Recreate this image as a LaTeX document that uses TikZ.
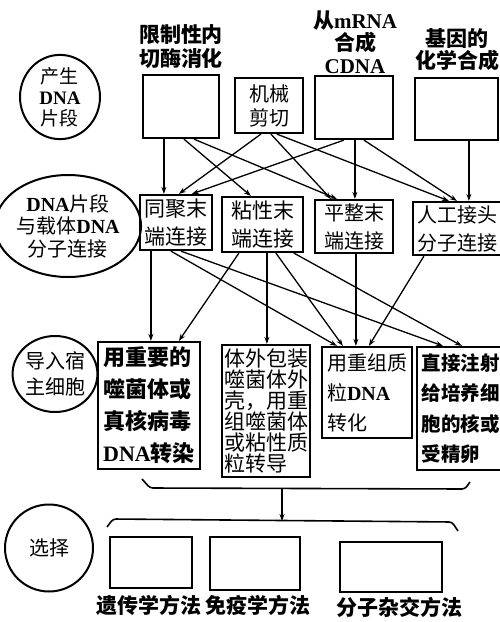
\documentclass[tikz,border=0pt]{standalone}
\usepackage{fontspec}
\setmainfont{Noto Sans CJK SC}
\newfontfamily\latf{Liberation Serif}
\usetikzlibrary{arrows.meta,shapes.geometric}
\newcommand\La[1]{{\latf\bfseries #1}}
\begin{document}
\begin{tikzpicture}[x=1pt,y=-1pt,
  box/.style={draw, line width=2.2pt, inner sep=0pt},
  arr/.style={line width=1.3pt, -{Stealth[length=7pt,width=5pt]}},
  circ/.style={draw, ellipse, line width=2pt, inner sep=0pt, align=center},
  lab/.style={inner sep=0pt, align=center},
  brace/.style={line width=1.6pt, rounded corners=3pt}]
\useasboundingbox (0,0) rectangle (500,622);

% top labels
\node[lab, font=\bfseries\fontsize{21}{24}\selectfont] (tA) at (181,47) {限制性内\\切酶消化};
\node[lab, font=\bfseries\fontsize{21}{22.5}\selectfont] (tC) at (355,42) {从\La{mRNA}\\合成\\\La{CDNA}};
\node[lab, font=\bfseries\fontsize{21}{22}\selectfont] (tD) at (457,50) {基因的\\化学合成};

% circles
\node[circ, minimum width=80pt, minimum height=80pt, font=\fontsize{19}{21}\selectfont] (c1) at (60,97) {产生\\\La{DNA}\\片段};
\node[circ, minimum width=107pt, minimum height=102pt, font=\fontsize{20}{22.5}\selectfont] (c2) at (68,226) {\La{DNA}片段\\与载体\La{DNA}\\分子连接};
\node[circ, minimum width=84pt, minimum height=76pt, font=\fontsize{20}{26}\selectfont] (c3) at (55,374) {导入宿\\主细胞};
\node[circ, minimum width=88pt, minimum height=87pt, font=\fontsize{20}{24}\selectfont] (c4) at (49,548) {选择};

% row 1
\node[box, minimum width=76pt, minimum height=63pt] (A) at (181,106.5) {};
\node[box, minimum width=68pt, minimum height=55pt, font=\fontsize{20}{24}\selectfont, align=center] (B) at (269,105.5) {机械\\剪切};
\node[box, minimum width=78pt, minimum height=63pt] (C) at (354,107.5) {};
\node[box, minimum width=83pt, minimum height=62pt] (D) at (456.5,109) {};

% row 2
\node[box, minimum width=72pt, minimum height=55pt, font=\fontsize{21}{28}\selectfont, align=center] (E) at (176,222.5) {同聚末\\端连接};
\node[box, minimum width=81pt, minimum height=55pt, font=\fontsize{21}{28}\selectfont, align=center] (F) at (262.5,224.5) {粘性末\\端连接};
\node[box, minimum width=78pt, minimum height=53pt, font=\fontsize{20}{28}\selectfont, align=center] (G) at (354,226.5) {平整末\\端连接};
\node[box, text width=80pt, inner xsep=4.5pt, minimum height=53pt, font=\fontsize{20}{28}\selectfont, align=left] (H) at (457.5,228.5) {人工接头\\分子连接};

% row 3
\node[box, minimum width=102pt, minimum height=127pt, font=\bfseries\fontsize{22}{32}\selectfont, align=left] (I) at (149,405.5) {用重要的\\噬菌体或\\真核病毒\\\La{DNA}转染};
\node[box, minimum width=88pt, minimum height=132pt, font=\fontsize{21}{21}\selectfont, align=left] (J) at (266,411) {体外包装\\噬菌体外\\壳，用重\\组噬菌体\\或粘性质\\粒转导};
\node[box, minimum width=90pt, minimum height=91pt, font=\fontsize{20}{30}\selectfont, align=left] (K) at (367,392.5) {用重组质\\粒\La{DNA}\\转化};
\node[box, text width=78pt, inner xsep=4.5pt, minimum height=123pt, font=\bfseries\fontsize{19.5}{30.5}\selectfont, align=left] (L) at (460.5,408.5) {直接注射\\给培养细\\胞的核或\\受精卵};

% row 4
\node[box, minimum width=82pt, minimum height=51pt] (M) at (151,562.5) {};
\node[box, minimum width=90pt, minimum height=53pt] (N) at (255,563.5) {};
\node[box, minimum width=102pt, minimum height=50pt] (O) at (391,567) {};
\node[lab, font=\bfseries\fontsize{21}{24}\selectfont] (lM) at (149,605) {遗传学方法};
\node[lab, font=\bfseries\fontsize{21}{24}\selectfont] (lN) at (258,605) {免疫学方法};
\node[lab, font=\bfseries\fontsize{21}{24}\selectfont] (lO) at (399,607) {分子杂交方法};

% row 1 -> row 2
\draw[arr] ([xshift=22pt]A.south west) -- ([xshift=25pt]E.north west);
\draw[arr] ([xshift=42pt]A.south west) -- ([xshift=30pt]F.north west);
\draw[arr] ([xshift=52pt]A.south west) -- ([xshift=23pt]G.north west);
\draw[arr] ([xshift=27pt]B.south west) -- ([xshift=40pt]E.north west);
\draw[arr] ([xshift=37pt]B.south west) -- ([xshift=17pt]G.north west);
\draw[arr] ([xshift=43pt]B.south west) -- ([xshift=37pt]H.north west);
\draw[arr] ([xshift=30pt]C.south west) -- ([xshift=53pt]E.north west);
\draw[arr] ([xshift=41pt]C.south west) -- ([xshift=41pt]G.north west);
\draw[arr] ([xshift=50pt]C.south west) -- ([xshift=45pt]H.north west);
\draw[arr] ([xshift=55pt]D.south west) -- ([xshift=57pt]H.north west);

% row 2 -> row 3
\draw[arr] ([xshift=12pt]E.south west) -- ([xshift=54pt]I.north west);
\draw[arr] ([xshift=32pt]E.south west) -- ([xshift=16pt]K.north west);
\draw[arr] ([xshift=42pt]E.south west) -- ([xshift=27pt]L.north west);
\draw[arr] ([xshift=18pt]F.south west) -- ([xshift=82pt]I.north west);
\draw[arr] ([xshift=46pt]F.south west) -- ([xshift=46pt]J.north west);
\draw[arr] ([xshift=55pt]F.south west) -- ([xshift=22pt]K.north west);
\draw[arr] ([xshift=73pt]F.south west) -- ([xshift=46pt]L.north west);
\draw[arr] ([xshift=42pt]G.south west) -- ([xshift=35pt]K.north west);
\draw[arr] ([xshift=12pt]H.south west) -- ([xshift=48pt]K.north west);

% braces
\coordinate (bu1) at (142,479);
\coordinate (bu2) at (150,488);
\coordinate (bu3) at (465,489);
\coordinate (bu4) at (470,482);
\draw[brace] (bu1) -- (bu2) -- (bu3) -- (bu4);
\coordinate (bl1) at (107,527);
\coordinate (bl2) at (113,519);
\coordinate (bl3) at (452,522);
\coordinate (bl4) at (458,531);
\draw[brace] (bl1) -- (bl2) -- (bl3) -- (bl4);
\coordinate (bm1) at (282,489);
\coordinate (bm2) at (282,521);
\draw[arr] (bm1) -- (bm2);
\end{tikzpicture}
\end{document}
